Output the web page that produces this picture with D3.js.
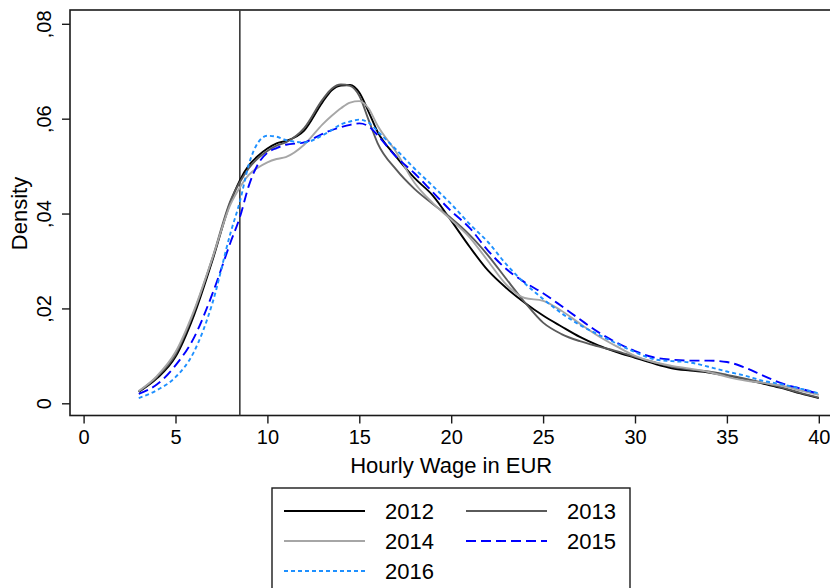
<!DOCTYPE html>
<html><head><meta charset="utf-8">
<script src="https://cdn.jsdelivr.net/npm/d3@7"></script>
<style>
html,body{margin:0;padding:0;background:#fff;}
svg{display:block;font-family:"Liberation Sans",Arial,sans-serif;}
</style></head>
<body><svg id="chart" width="830" height="588"></svg>
<script>
const wage = [3,4,5,6,7,8,8.5,9,9.5,10,10.5,11,12,13,13.5,14,14.5,15,15.5,16,17,18,19,20,21,22,23,24,25,26,27,28,29,30,31,32,33,34,35,36,37,38,39,40];
const d2012 = [0.0024,0.0053,0.0098,0.0185,0.0300,0.0425,0.0470,0.0502,0.0522,0.0537,0.0548,0.0553,0.0575,0.0635,0.0660,0.0670,0.0671,0.0655,0.0615,0.0572,0.0520,0.0475,0.0438,0.0385,0.0330,0.0280,0.0243,0.0212,0.0185,0.0162,0.0140,0.0122,0.0108,0.0096,0.0084,0.0074,0.0069,0.0065,0.0058,0.0050,0.0041,0.0032,0.0021,0.0011];
const d2013 = [0.0025,0.0056,0.0103,0.0192,0.0305,0.0428,0.0466,0.0496,0.0517,0.0532,0.0543,0.0550,0.0580,0.0640,0.0663,0.0672,0.0669,0.0648,0.0598,0.0548,0.0493,0.0452,0.0420,0.0390,0.0355,0.0312,0.0262,0.0213,0.0170,0.0146,0.0131,0.0120,0.0110,0.0098,0.0087,0.0077,0.0071,0.0067,0.0060,0.0052,0.0043,0.0033,0.0022,0.0012];
const d2014 = [0.0026,0.0058,0.0108,0.0195,0.0305,0.0420,0.0455,0.0482,0.0497,0.0508,0.0515,0.0519,0.0545,0.0588,0.0606,0.0622,0.0634,0.0637,0.0622,0.0585,0.0530,0.0465,0.0422,0.0387,0.0350,0.0300,0.0250,0.0222,0.0216,0.0195,0.0168,0.0142,0.0120,0.0100,0.0087,0.0079,0.0073,0.0066,0.0056,0.0048,0.0043,0.0037,0.0027,0.0018];
const d2015 = [0.0020,0.0040,0.0080,0.0138,0.0230,0.0340,0.0392,0.0460,0.0505,0.0528,0.0538,0.0545,0.0550,0.0568,0.0576,0.0582,0.0587,0.0590,0.0584,0.0565,0.0520,0.0485,0.0445,0.0405,0.0370,0.0322,0.0283,0.0255,0.0232,0.0205,0.0177,0.0150,0.0128,0.0110,0.0097,0.0092,0.0090,0.0090,0.0087,0.0075,0.0058,0.0042,0.0031,0.0020];
const d2016 = [0.0011,0.0028,0.0055,0.0108,0.0210,0.0360,0.0425,0.0505,0.0550,0.0564,0.0562,0.0555,0.0550,0.0565,0.0576,0.0588,0.0594,0.0598,0.0592,0.0573,0.0535,0.0495,0.0458,0.0420,0.0378,0.0340,0.0293,0.0253,0.0220,0.0190,0.0165,0.0145,0.0126,0.0108,0.0093,0.0089,0.0086,0.0077,0.0067,0.0058,0.0047,0.0040,0.0031,0.0021];
const years = ["2012","2013","2014","2015","2016"];
const xTicks = [0,5,10,15,20,25,30,35,40];
const yTicks = [0,0.02,0.04,0.06,0.08];
const yTickLabels = ["0",",02",",04",",06",",08"];
const minWage = 8.5;

const seriesData = [d2012,d2013,d2014,d2015,d2016];
const styles = [
  {color:"#000000", dash:null, w:1.9},
  {color:"#5a5a5a", dash:null, w:1.9},
  {color:"#a6a6a6", dash:null, w:1.9},
  {color:"#0000ff", dash:"10,5", w:1.9},
  {color:"#1e90ff", dash:"4,3", w:1.9}
];
const FS = 22;
const TFS = 20;
const FF = "Liberation Sans, Arial, sans-serif";

const svg = d3.select("#chart");
const x = d3.scaleLinear().domain([0,40]).range([83.6,818.8]);
const y = d3.scaleLinear().domain([0,0.08]).range([403.3,23.8]);
const frame = {l:70, t:10, r:845, b:415.5};

svg.append("rect").attr("x",frame.l).attr("y",frame.t).attr("width",frame.r-frame.l).attr("height",frame.b-frame.t)
  .attr("fill","none").attr("stroke","#1a1a1a").attr("stroke-width",1.6);

// y axis
const yAxis = d3.axisLeft(y).tickValues(yTicks).tickSize(8).tickFormat((d,i)=>yTickLabels[i]);
const gy = svg.append("g").attr("transform",`translate(${frame.l},0)`).call(yAxis);
gy.select(".domain").remove();
gy.selectAll(".tick line").attr("stroke","#1a1a1a").attr("stroke-width",1.4);
gy.selectAll(".tick text").attr("font-size",TFS).attr("fill","#000").attr("font-family",FF)
  .attr("text-anchor","middle").attr("x",0).attr("y",0).attr("dy","0.35em")
  .attr("transform","translate(-26,0) rotate(-90)");

// x axis
const xAxis = d3.axisBottom(x).tickValues(xTicks).tickSize(8).tickFormat(d3.format("d"));
const gx = svg.append("g").attr("transform",`translate(0,${frame.b})`).call(xAxis);
gx.select(".domain").remove();
gx.selectAll(".tick line").attr("stroke","#1a1a1a").attr("stroke-width",1.4);
gx.selectAll(".tick text").attr("font-size",TFS).attr("fill","#000").attr("font-family",FF)
  .attr("y",14);

// axis titles
svg.append("text").attr("x",x(20)).attr("y",473).attr("text-anchor","middle")
  .attr("font-size",FS).attr("font-family",FF).text("Hourly Wage in EUR");
svg.append("text").attr("transform",`translate(19,${y(0.04)}) rotate(-90)`).attr("text-anchor","middle")
  .attr("dy","0.35em").attr("font-size",FS).attr("font-family",FF).text("Density");

// minimum wage line
svg.append("line").attr("x1",x(minWage)).attr("x2",x(minWage)).attr("y1",frame.t).attr("y2",frame.b)
  .attr("stroke","#3a3a3a").attr("stroke-width",1.6);

// curves
const line = d3.line().x((d,i)=>x(wage[i])).y(d=>y(d)).curve(d3.curveMonotoneX);
seriesData.forEach((s,i)=>{
  svg.append("path").datum(s).attr("d",line).attr("fill","none")
    .attr("stroke",styles[i].color).attr("stroke-width",styles[i].w)
    .attr("stroke-dasharray",styles[i].dash);
});

// legend
const lg = svg.append("g");
lg.append("rect").attr("x",272).attr("y",488).attr("width",358).attr("height",110)
  .attr("fill","#fff").attr("stroke","#1a1a1a").attr("stroke-width",1.4);
const pos = [[0,0],[1,0],[0,1],[1,1],[0,2]];
years.forEach((yr,i)=>{
  const cx = 284 + pos[i][0]*182;
  const cy = 511 + pos[i][1]*30;
  lg.append("line").attr("x1",cx).attr("x2",cx+81).attr("y1",cy).attr("y2",cy)
    .attr("stroke",styles[i].color).attr("stroke-width",styles[i].w).attr("stroke-dasharray",styles[i].dash);
  lg.append("text").attr("x",cx+101).attr("y",cy).attr("dy","0.35em").attr("font-size",FS).attr("font-family",FF).text(yr);
});
</script>
</body></html>
